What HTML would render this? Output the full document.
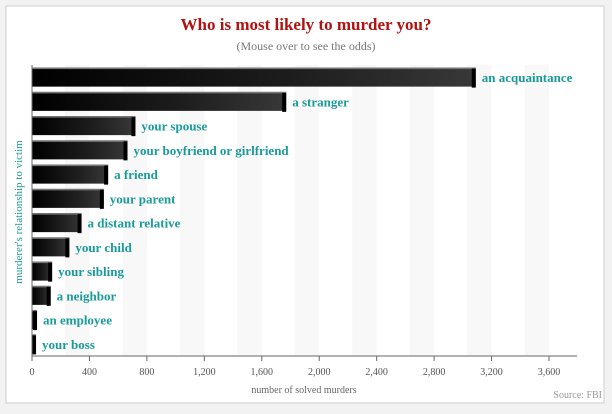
<!DOCTYPE html>
<html><head><meta charset="utf-8"><style>
body{margin:0;background:#f2f2f2;}
#wrap{position:relative;width:612px;height:414px;background:#f2f2f2;overflow:hidden;}
svg text{font-family:"Liberation Serif",serif;}
</style></head><body>
<div id="wrap">
<svg id="chart" width="612" height="414">
<defs>
<linearGradient id="barg" x1="0" x2="1" y1="0" y2="0">
<stop offset="0" stop-color="#000"/><stop offset="0.6" stop-color="#1e1e1e"/><stop offset="1" stop-color="#383838"/>
</linearGradient>
</defs>
<rect x="6" y="6" width="598" height="397" fill="#fff" stroke="#cfcfcf"/>
<text x="306" y="30" text-anchor="middle" font-size="17" font-weight="bold" fill="#b31212">Who is most likely to murder you?</text>
<text x="306" y="50" text-anchor="middle" font-size="12" fill="#777">(Mouse over to see the odds)</text>
<g id="bands"></g>
<g id="bars"></g>
<g id="axis"></g>
<text transform="translate(22,212) rotate(-90)" text-anchor="middle" font-size="11" fill="#1a9a9a">murderer's relationship to victim</text>
<text x="304" y="393" text-anchor="middle" font-size="10" fill="#666">number of solved murders</text>
<text x="602" y="398" text-anchor="end" font-size="10" fill="#999">Source: FBI</text>
</svg>
</div>
<script>
const categories=["an acquaintance","a stranger","your spouse","your boyfriend or girlfriend","a friend","your parent","a distant relative","your child","your sibling","a neighbor","an employee","your boss"];
const values=[3090,1770,720,665,530,500,345,260,140,130,35,28];
const ticks=[0,400,800,1200,1600,2000,2400,2800,3200,3600];
const tickLabels=["0","400","800","1,200","1,600","2,000","2,400","2,800","3,200","3,600"];
const NS="http://www.w3.org/2000/svg";
const x0=32,xEnd=577,yTop=65,yBot=356;
const sx=v=>x0+v*(549-32)/3600;
const rowH=(yBot-yTop)/categories.length;
function mk(t,a,p){const e=document.createElementNS(NS,t);for(const k in a)e.setAttribute(k,a[k]);p.appendChild(e);return e;}
const bands=document.getElementById('bands'),bars=document.getElementById('bars'),axis=document.getElementById('axis');
for(let i=1;i<ticks.length;i++){
 const r=mk('rect',{x:sx(ticks[i]-170),y:yTop,width:sx(ticks[i])-sx(ticks[i]-170),height:yBot-yTop,fill:'#f8f8f8'},bands);
 
 
}
categories.forEach((c,i)=>{
 const cy=yTop+rowH*(i+0.5),h=19,w=sx(values[i])-x0;
 const g=mk('g',{},bars);
 
 
 mk('rect',{x:x0,y:cy-h/2,width:w,height:h,fill:'url(#barg)'},g);
 mk('rect',{x:x0,y:cy-h/2,width:w,height:1.5,fill:'#777'},g);
 mk('rect',{x:x0+w-4,y:cy-h/2+1,width:4,height:h,fill:'#000'},g);
 const t=mk('text',{x:x0+w+6,y:cy+5,'font-size':13,'font-weight':'bold',fill:'#1a9a9a'},g);
 t.textContent=c;
 
 
});
let l=mk('line',{x1:x0,x2:x0,y1:yTop,y2:yBot,stroke:'#666'},axis);


l=mk('line',{x1:x0,x2:xEnd,y1:yBot,y2:yBot,stroke:'#666'},axis);


ticks.forEach((v,i)=>{
 mk('line',{x1:sx(v),x2:sx(v),y1:yBot,y2:yBot+5,stroke:'#666'},axis);
 const t=mk('text',{x:sx(v),y:yBot+19,'text-anchor':'middle','font-size':10,fill:'#555'},axis);
 t.textContent=tickLabels[i];
 
 
});
</script>
</body></html>
